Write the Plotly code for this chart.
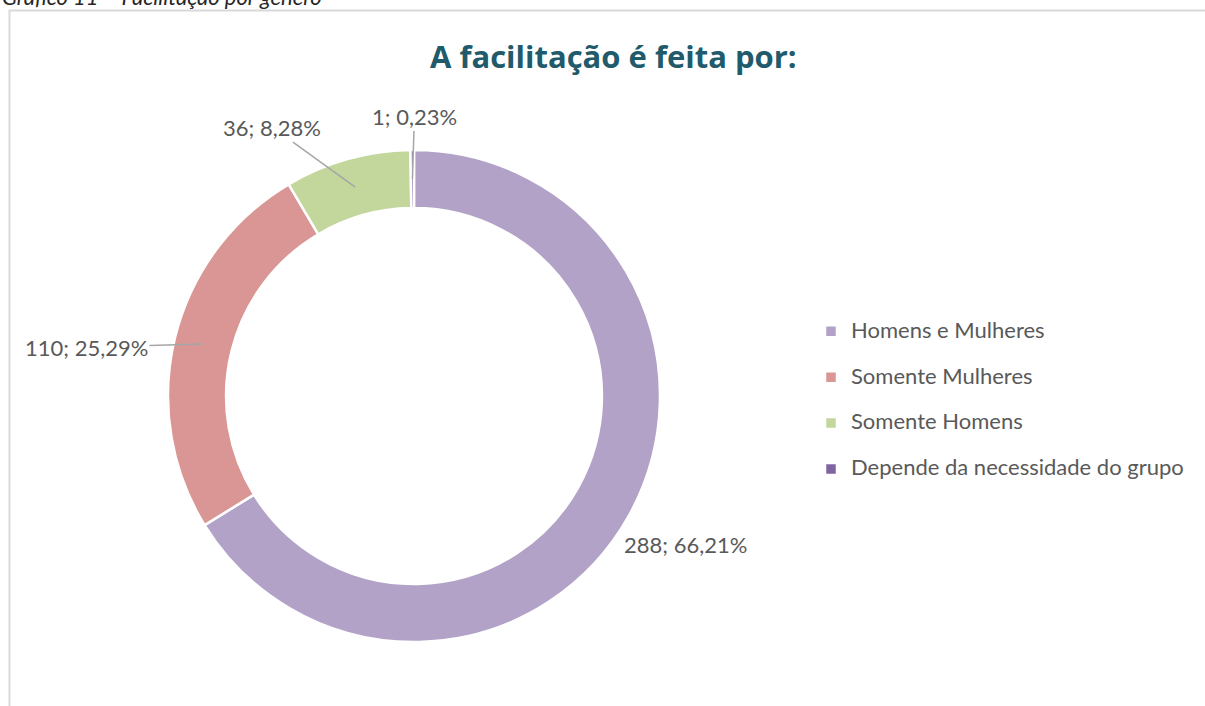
import math
import plotly.graph_objects as go

# Data
categorias = ["Homens e Mulheres", "Somente Mulheres", "Somente Homens",
              "Depende da necessidade do grupo"]
respostas = [288, 110, 36, 1]
cores = ["#B3A2C7", "#D99694", "#C3D69B", "#8064A2"]

W, H = 1205, 706
# pie placement in pixels
cx, cy, R = 414, 396, 246
hole = 0.764

def px2paper(x, y):
    return x / W, 1 - y / H

fig = go.Figure()

# legend names: bigger text inside a 2-line entry to get the wide row spacing
nomes = [f"<span style='font-size:22px'>{c}</span><br> " for c in categorias]

fig.add_trace(go.Pie(
    labels=nomes,
    values=respostas,
    sort=False,
    direction="clockwise",
    rotation=0,
    hole=hole,
    marker=dict(colors=cores, line=dict(color="white", width=2.5)),
    textinfo="none",
    hovertemplate="%{value}<extra></extra>",
    domain=dict(x=[(cx - R) / W, (cx + R) / W],
                y=[1 - (cy + R) / H, 1 - (cy - R) / H]),
))

# labels with leader lines, placed from the slice mid-angle
total = sum(respostas)
offsets = [(57, 29, False), (-117, 3, True), (-83, -60, True), (2, -63, True)]
acc = 0
for v, (ox, oy, seta) in zip(respostas, offsets):
    mid = (acc + v / 2) / total * 2 * math.pi
    acc += v
    r = R * (1 + hole) / 2 if seta else R
    x, y = px2paper(cx + r * math.sin(mid), cy - r * math.cos(mid))
    pct = f"{v / total * 100:.2f}".replace(".", ",")
    fig.add_annotation(
        x=x, y=y, xref="paper", yref="paper",
        text=f"{v}; {pct}%",
        showarrow=True, arrowhead=0, arrowwidth=1.5,
        arrowcolor="#A6A6A6" if seta else "rgba(0,0,0,0)",
        ax=ox, ay=oy, standoff=0,
        font=dict(size=22, color="#595959"),
    )

# caption above the frame (cut off like the source)
fig.add_annotation(
    x=0, y=1 + 3 / H, xref="paper", yref="paper", xanchor="left", yanchor="middle",
    text="<i>Gráfico 11 – Facilitação por gênero</i>", showarrow=False,
    font=dict(size=22, color="#262626"),
)

# frame
fig.add_shape(type="rect", xref="paper", yref="paper",
              x0=9.5 / W, x1=1.02, y0=-0.02, y1=1 - 10.5 / H,
              line=dict(color="#D9D9D9", width=2))

fig.update_layout(
    width=W, height=H,
    margin=dict(l=0, r=0, t=0, b=0),
    paper_bgcolor="white",
    plot_bgcolor="white",
    title=dict(text="<b>A facilitação é feita por:</b>", x=0.509, xanchor="center",
               y=1 - 57 / H, yanchor="middle",
               font=dict(size=31, color="#215A6A", family="Open Sans")),
    font=dict(family="Lato", color="#595959"),
    legend=dict(x=811 / W, y=1 - 314 / H, xanchor="left", yanchor="top",
                font=dict(size=16.5, color="#595959"), valign="top",
                itemwidth=30),
    showlegend=True,
)

fig.write_html("out.html", config={"displayModeBar": False},
               post_script="document.body.style.margin='0';")
